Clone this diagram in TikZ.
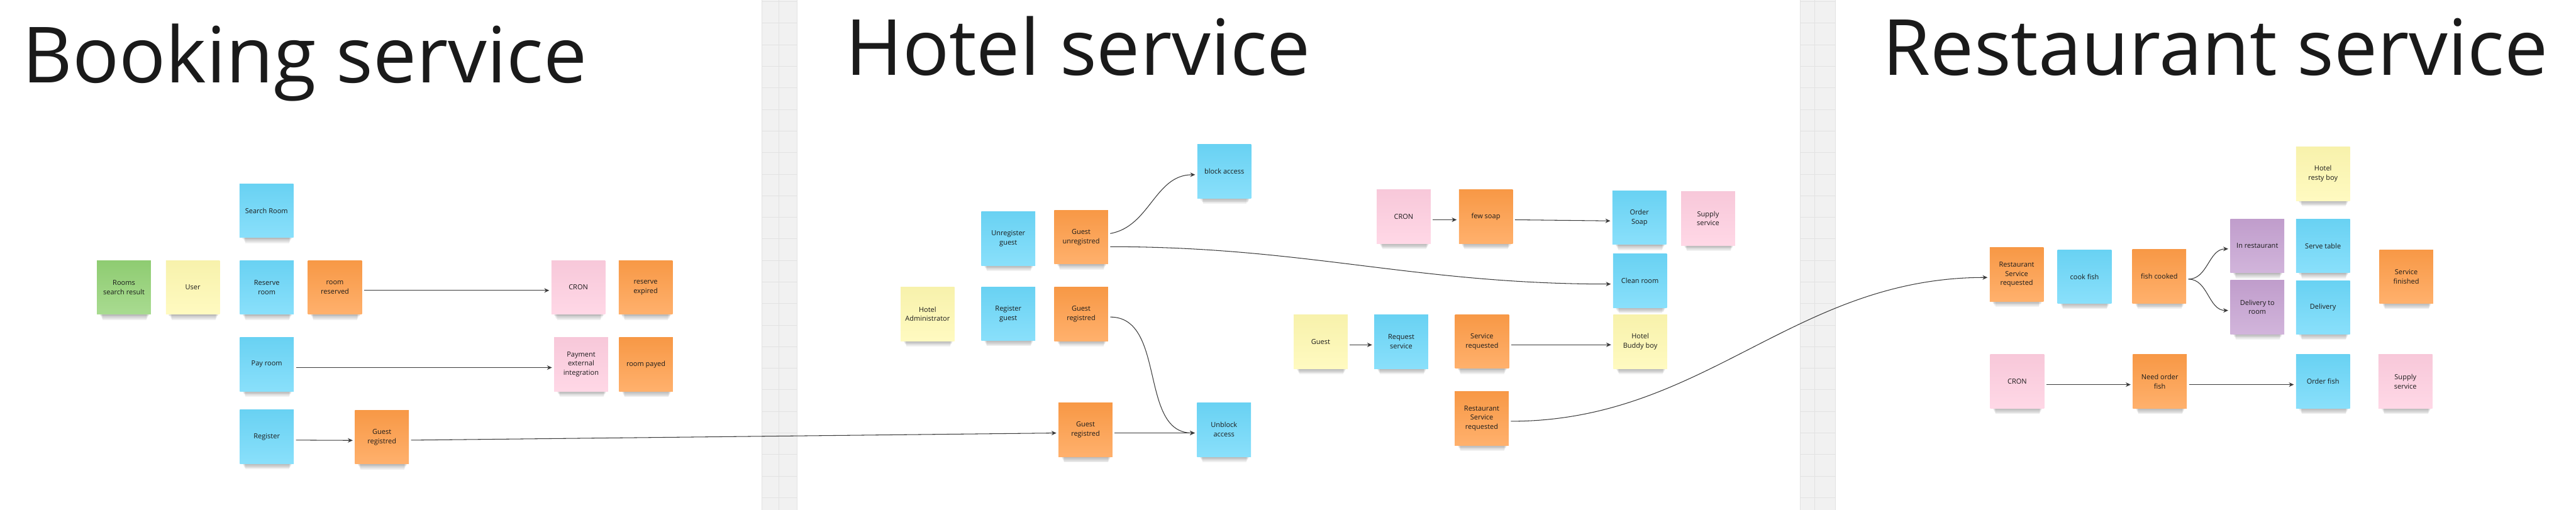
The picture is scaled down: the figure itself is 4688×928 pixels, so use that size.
\documentclass[tikz,border=0pt]{standalone}
\usepackage{fontspec}
\setmainfont{Open Sans}
\usetikzlibrary{arrows.meta,backgrounds}
\definecolor{nblue}{HTML}{6CD8FA}
\definecolor{norange}{HTML}{FF9D48}
\definecolor{nyellow}{HTML}{FFF9B1}
\definecolor{npink}{HTML}{FFCEE0}
\definecolor{ngreen}{HTML}{93D275}
\definecolor{nviolet}{HTML}{C6A2D2}
\definecolor{stripfill}{HTML}{F1F1F1}
\definecolor{stripline}{HTML}{E2E2E2}
\definecolor{ink}{HTML}{1A1A1A}
\definecolor{wire}{HTML}{3A3A3A}
\tikzset{
  note/.style={rectangle, minimum width=49pt, minimum height=49pt, inner sep=1pt, outer sep=2pt,
    align=center, text=ink, font=\fontsize{6.3}{8.5}\selectfont,
    top color=#1!97!black, bottom color=#1!80!white, draw=none},
  bluenote/.style={note=nblue},
  orangenote/.style={note=norange},
  yellownote/.style={note=nyellow},
  pinknote/.style={note=npink},
  greennote/.style={note=ngreen},
  violetnote/.style={note=nviolet},
  flow/.style={draw=wire, line width=0.6pt, -{Stealth[length=4.5pt,width=4pt]}},
  heading/.style={font=\fontsize{70.5}{80}\selectfont, text=ink, inner sep=0pt, anchor=base west},
}
\begin{document}
\begin{tikzpicture}[x=0.5pt,y=-0.5pt]
\useasboundingbox (0,0) rectangle (4688,928);
% grey separator strips
\foreach \sx/\ex/\mx in {1387/1451/1417, 3276/3340/3303}{
  \fill[stripfill] (\sx,0) rectangle (\ex,928);
  \foreach \k in {0,...,23}{
    \draw[stripline, line width=0.5pt] (\sx,3+39.25*\k) -- (\ex,3+39.25*\k);
  }
  \draw[stripline, line width=0.6pt] (\mx,0) -- (\mx,928);
  \draw[stripline, line width=0.6pt] (\sx,0) -- (\sx,928) (\ex,0) -- (\ex,928);
}
% titles
\node[heading] (tbook) at (40,150) {Booking service};
\node[heading] (thotel) at (1538,137) {Hotel service};
\node[heading] (trest) at (3426,137) {Restaurant service};
% Booking service
\node[greennote] (rsr) at (225.5,523) {Rooms\\search result};
\node[yellownote] (user) at (351,523) {User};
\node[bluenote] (searchroom) at (485,383.5) {Search Room};
\node[bluenote] (reserveroom) at (485.5,523) {Reserve\\room};
\node[orangenote] (roomreserved) at (609.5,523) {room\\reserved};
\node[pinknote] (cronb) at (1052.5,523) {CRON};
\node[orangenote] (reserveexpired) at (1175,523) {reserve\\expired};
\node[bluenote] (payroom) at (485.5,663) {Pay room};
\node[pinknote] (payment) at (1057.5,663) {Payment\\external\\integration};
\node[orangenote] (roompayed) at (1175.5,663.5) {room payed};
\node[bluenote] (register) at (485.5,795) {Register};
\node[orangenote] (guestregb) at (695,795.5) {Guest\\registred};
% Hotel service
\node[bluenote] (unregguest) at (1835,434) {Unregister\\guest};
\node[orangenote] (guestunreg) at (1967.5,431.5) {Guest\\unregistred};
\node[yellownote] (hoteladmin) at (1688,571.5) {Hotel\\Administrator};
\node[bluenote] (regguest) at (1835,571) {Register\\guest};
\node[orangenote] (guestregh) at (1967.5,571.5) {Guest\\registred};
\node[orangenote] (guestregh2) at (1975.5,782.5) {Guest\\registred};
\node[bluenote] (blockaccess) at (2228,312) {block access};
\node[bluenote] (unblock) at (2227.5,782) {Unblock\\access};
\node[pinknote] (cronh) at (2554.5,394.5) {CRON};
\node[orangenote] (fewsoap) at (2704,394.5) {few soap};
\node[bluenote] (ordersoap) at (2983.5,396) {Order\\Soap};
\node[pinknote] (supplyh) at (3108.5,397.5) {Supply\\service};
\node[bluenote] (cleanroom) at (2984.5,511) {Clean room};
\node[yellownote] (buddy) at (2985,622) {Hotel\\Buddy boy};
\node[yellownote] (guest) at (2403.5,622) {Guest};
\node[bluenote] (reqservice) at (2550,622) {Request\\service};
\node[orangenote] (servreq) at (2697,621.5) {Service\\requested};
\node[orangenote] (rsrh) at (2696.5,761.5) {Restaurant\\Service\\requested};
% Restaurant service
\node[orangenote] (rsrr) at (3670,499.5) {Restaurant\\Service\\requested};
\node[bluenote] (cookfish) at (3793.5,503.5) {cook fish};
\node[orangenote] (fishcooked) at (3929.5,503) {fish cooked};
\node[violetnote] (inrest) at (4108,447.5) {In restaurant};
\node[bluenote] (servetable) at (4227.5,447.5) {Serve table};
\node[yellownote] (resty) at (4227.5,316.5) {Hotel\\resty boy};
\node[violetnote] (delivroom) at (4108,559) {Delivery to\\room};
\node[bluenote] (delivery) at (4227.5,559.5) {Delivery};
\node[orangenote] (servfin) at (4379,503.5) {Service\\finished};
\node[pinknote] (cronr) at (3671,694.5) {CRON};
\node[orangenote] (needfish) at (3930.5,694.5) {Need order\\fish};
\node[bluenote] (orderfish) at (4227.5,694.5) {Order fish};
\node[pinknote] (supplyr) at (4377.5,694.5) {Supply\\service};
% shadows
\begin{pgfonlayer}{background}
\fill[white] (0,0) rectangle (4688,928);
\foreach \n in {rsr,user,searchroom,reserveroom,roomreserved,cronb,reserveexpired,payroom,payment,roompayed,register,guestregb,
  unregguest,guestunreg,hoteladmin,regguest,guestregh,guestregh2,blockaccess,unblock,cronh,fewsoap,ordersoap,supplyh,cleanroom,buddy,guest,reqservice,servreq,rsrh,
  rsrr,cookfish,fishcooked,inrest,servetable,resty,delivroom,delivery,servfin,cronr,needfish,orderfish,supplyr}{
  \foreach \k in {1,...,5}{
    \fill[black,opacity=0.06] ([xshift={4pt+\k*0.6pt},yshift=2pt]\n.south west) rectangle ([xshift={-3pt-\k*0.6pt},yshift={2pt-\k*1pt}]\n.south east);
  }
}
\end{pgfonlayer}
% connectors
\draw[flow] ([yshift=-2.8pt]roomreserved.east) -- ([yshift=-2.8pt]cronb.west);
\draw[flow] ([yshift=-3pt]payroom.east) -- ([yshift=-3pt]payment.west);
\draw[flow] ([yshift=-3pt]register.east) -- ([yshift=-3pt]guestregb.west);
\draw[flow] ([yshift=-2.8pt]guestregb.east) -- ([yshift=-2.8pt]guestregh2.west);
\draw[flow] ([yshift=3.25pt]guestunreg.east) to[out=10,in=180] ([yshift=-3pt]blockaccess.west);
\draw[flow] ([yshift=-8.75pt]guestunreg.east) to[out=0,in=180] ([yshift=-3pt]cleanroom.west);
\draw[flow] ([yshift=-2.75pt]guestregh.east) to[out=0,in=180] ([yshift=-3pt]unblock.west);
\draw[flow] ([yshift=-2.75pt]guestregh2.east) -- ([yshift=-3pt]unblock.west);
\draw[flow] ([yshift=-2.75pt]cronh.east) -- ([yshift=-2.75pt]fewsoap.west);
\draw[flow] ([yshift=-2.75pt]fewsoap.east) -- ([yshift=-3pt]ordersoap.west);
\draw[flow] ([yshift=-2.85pt]guest.east) -- ([yshift=-2.85pt]reqservice.west);
\draw[flow] ([yshift=-3pt]servreq.east) -- ([yshift=-2.75pt]buddy.west);
\draw[flow] ([yshift=-2.6pt]rsrh.east) to[out=0,in=180] ([yshift=-2.75pt]rsrr.west);
\draw[flow] ([yshift=-2.5pt]fishcooked.east) to[out=0,in=180] ([yshift=-2.75pt]inrest.west);
\draw[flow] ([yshift=-2.5pt]fishcooked.east) to[out=0,in=180] ([yshift=-3pt]delivroom.west);
\draw[flow] ([yshift=-2.75pt]cronr.east) -- ([yshift=-2.75pt]needfish.west);
\draw[flow] ([yshift=-2.75pt]needfish.east) -- ([yshift=-2.75pt]orderfish.west);
\end{tikzpicture}
\end{document}
